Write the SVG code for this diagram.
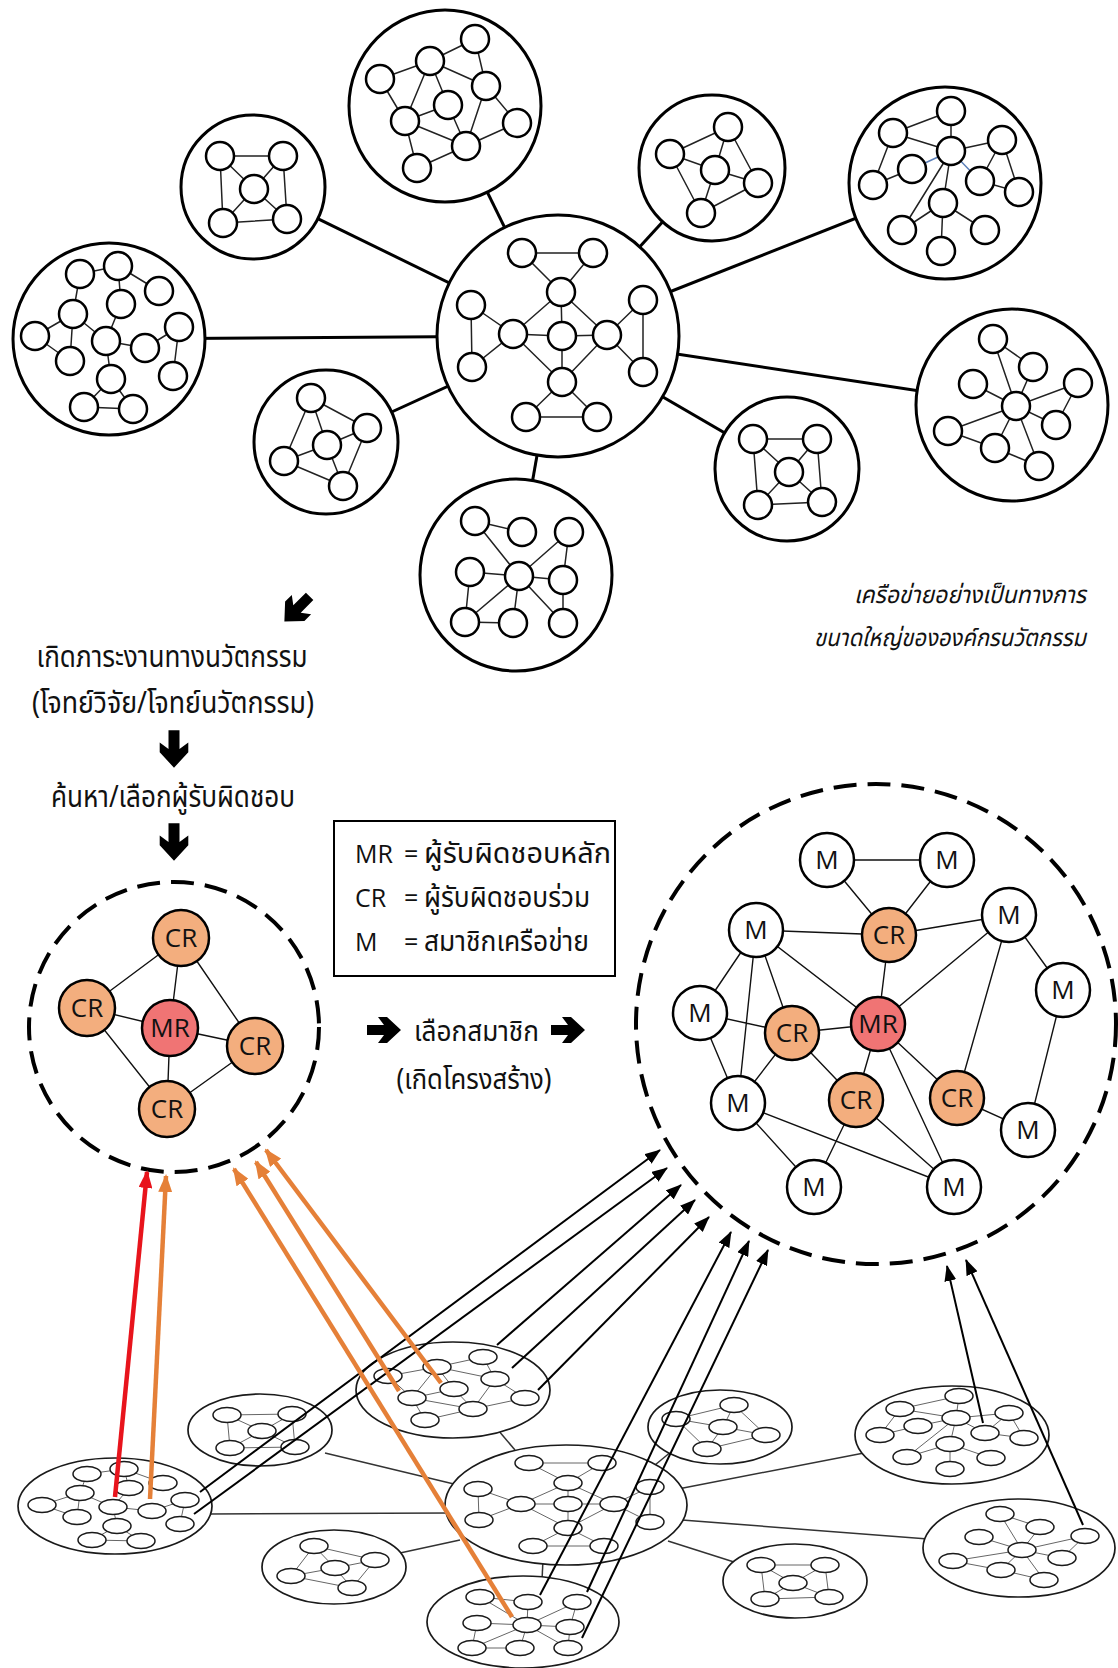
<svg xmlns="http://www.w3.org/2000/svg" xmlns:xlink="http://www.w3.org/1999/xlink" width="1118" height="1668" viewBox="0 0 1118 1668">
<style>
  .ring{fill:#fff;stroke:#000;stroke-width:3}
  .nd{fill:#fff;stroke:#000;stroke-width:2.5}
  .ed{stroke:#222;stroke-width:1.5;fill:none}
  .edb{stroke:#5b7fb8;stroke-width:1.5;fill:none}
  .link{stroke:#000;stroke-width:3;fill:none}
  .ering{fill:#fff;stroke:#1a1a1a;stroke-width:1.7}
  .end{fill:#fff;stroke:#1a1a1a;stroke-width:1.5}
  .eed{stroke:#666;stroke-width:1;fill:none}
  .elink{stroke:#333;stroke-width:1.5;fill:none}
  .dash{fill:none;stroke:#000;stroke-width:4;stroke-dasharray:23 11}
  .cr{fill:#F3AE7E;stroke:#000;stroke-width:2.5}
  .mr{fill:#F07474;stroke:#000;stroke-width:2.5}
  .mm{fill:#fff;stroke:#000;stroke-width:2.5}
  .sed{stroke:#111;stroke-width:1.4;fill:none}
  .lbl{font-family:"Open Sans","Noto Sans","Liberation Sans",sans-serif;font-size:26px;fill:#111;text-anchor:middle}
  .th{font-family:"Noto Sans Thai","Noto Sans Thai UI","Loma","Garuda","Noto Sans","DejaVu Sans",sans-serif;fill:#111}
  .lat{font-family:"Open Sans","Noto Sans","Liberation Sans",sans-serif;fill:#111}
  .blk{stroke:#000;stroke-width:2;fill:none}
  .org{stroke:#E58038;stroke-width:4.5;fill:none}
  .red{stroke:#E8141C;stroke-width:4.5;fill:none}
</style>
<defs>
  <marker id="ahB" markerUnits="userSpaceOnUse" markerWidth="16" markerHeight="12" viewBox="0 0 16 12" refX="15" refY="6" orient="auto">
    <path d="M0,0 L16,6 L0,12 Z" fill="#000"/>
  </marker>
  <marker id="ahO" markerUnits="userSpaceOnUse" markerWidth="18" markerHeight="14" viewBox="0 0 18 14" refX="16" refY="7" orient="auto">
    <path d="M0,0 L18,7 L0,14 Z" fill="#E58038"/>
  </marker>
  <marker id="ahR" markerUnits="userSpaceOnUse" markerWidth="18" markerHeight="14" viewBox="0 0 18 14" refX="16" refY="7" orient="auto">
    <path d="M0,0 L18,7 L0,14 Z" fill="#E8141C"/>
  </marker>
  <path id="bigArrow" d="M-17,-5 H0 L-6,-13 H3 L17,0 L3,13 H-6 L0,5 H-17 Z" fill="#000"/>
</defs>

<rect x="0" y="0" width="1118" height="1668" fill="#fff"/>

<!-- ===== upper network: links from the hub ===== -->
<g id="hub-links">
  <line class="link" x1="558" y1="336" x2="253" y2="187"/>
  <line class="link" x1="558" y1="336" x2="445" y2="106"/>
  <line class="link" x1="558" y1="336" x2="109" y2="339"/>
  <line class="link" x1="558" y1="336" x2="326" y2="442"/>
  <line class="link" x1="558" y1="336" x2="516" y2="575"/>
  <line class="link" x1="558" y1="336" x2="712" y2="168"/>
  <line class="link" x1="558" y1="336" x2="945" y2="183"/>
  <line class="link" x1="558" y1="336" x2="1012" y2="405"/>
  <line class="link" x1="558" y1="336" x2="787" y2="469"/>
</g>

<g id="cluster-a">
  <circle class="ring" cx="253" cy="187" r="72"/>
  <path class="ed" d="M220,156L283,156L287,219L223,223Z M254,189L220,156 M254,189L283,156 M254,189L223,223 M254,189L287,219"/>
  <circle class="nd" cx="220" cy="156" r="14"/><circle class="nd" cx="283" cy="156" r="14"/>
  <circle class="nd" cx="254" cy="189" r="14"/><circle class="nd" cx="223" cy="223" r="14"/>
  <circle class="nd" cx="287" cy="219" r="14"/>
</g>

<g id="cluster-b">
  <circle class="ring" cx="445" cy="106" r="96"/>
  <path class="ed" d="M475,39L430,61 M475,39L486,86 M430,61L380,79 M430,61L486,86 M430,61L405,121 M430,61L448,105 M380,79L405,121 M486,86L517,123 M486,86L466,146 M448,105L405,121 M448,105L466,146 M405,121L466,146 M405,121L417,168 M517,123L466,146 M466,146L417,168"/>
  <circle class="nd" cx="475" cy="39" r="14"/><circle class="nd" cx="430" cy="61" r="14"/>
  <circle class="nd" cx="380" cy="79" r="14"/><circle class="nd" cx="486" cy="86" r="14"/>
  <circle class="nd" cx="448" cy="105" r="14"/><circle class="nd" cx="405" cy="121" r="14"/>
  <circle class="nd" cx="517" cy="123" r="14"/><circle class="nd" cx="466" cy="146" r="14"/>
  <circle class="nd" cx="417" cy="168" r="14"/>
</g>

<g id="cluster-c">
  <circle class="ring" cx="109" cy="339" r="96"/>
  <path class="ed" d="M80,274L118,266 M80,274L73,314 M118,266L159,291 M118,266L121,304 M73,314L35,336 M73,314L70,361 M35,336L70,361 M73,314L106,341 M121,304L106,341 M106,341L145,348 M145,348L179,327 M179,327L173,376 M106,341L111,379 M111,379L84,407 M111,379L133,409 M84,407L133,409"/>
  <circle class="nd" cx="80" cy="274" r="14"/><circle class="nd" cx="118" cy="266" r="14"/>
  <circle class="nd" cx="159" cy="291" r="14"/><circle class="nd" cx="121" cy="304" r="14"/>
  <circle class="nd" cx="73" cy="314" r="14"/><circle class="nd" cx="179" cy="327" r="14"/>
  <circle class="nd" cx="35" cy="336" r="14"/><circle class="nd" cx="106" cy="341" r="14"/>
  <circle class="nd" cx="145" cy="348" r="14"/><circle class="nd" cx="70" cy="361" r="14"/>
  <circle class="nd" cx="173" cy="376" r="14"/><circle class="nd" cx="111" cy="379" r="14"/>
  <circle class="nd" cx="84" cy="407" r="14"/><circle class="nd" cx="133" cy="409" r="14"/>
</g>

<g id="cluster-d">
  <circle class="ring" cx="326" cy="442" r="72"/>
  <path class="ed" d="M311,398L367,428 M311,398L327,445 M311,398L284,461 M367,428L327,445 M367,428L343,486 M327,445L284,461 M327,445L343,486 M284,461L343,486"/>
  <circle class="nd" cx="311" cy="398" r="14"/><circle class="nd" cx="367" cy="428" r="14"/>
  <circle class="nd" cx="327" cy="445" r="14"/><circle class="nd" cx="284" cy="461" r="14"/>
  <circle class="nd" cx="343" cy="486" r="14"/>
</g>

<g id="cluster-hub">
  <circle class="ring" cx="558" cy="336" r="121"/>
  <path class="ed" d="M522,253L593,253 M522,253L561,292 M593,253L561,292 M561,292L562,336 M561,292L513,334 M561,292L607,335 M471,305L472,367 M471,305L513,334 M472,367L513,334 M513,334L562,336 M562,336L607,335 M513,334L562,382 M607,335L562,382 M607,335L643,300 M607,335L643,372 M643,300L643,372 M562,336L562,382 M562,382L526,417 M562,382L597,417 M526,417L597,417"/>
  <circle class="nd" cx="522" cy="253" r="14"/><circle class="nd" cx="593" cy="253" r="14"/>
  <circle class="nd" cx="561" cy="292" r="14"/><circle class="nd" cx="471" cy="305" r="14"/>
  <circle class="nd" cx="643" cy="300" r="14"/><circle class="nd" cx="513" cy="334" r="14"/>
  <circle class="nd" cx="562" cy="336" r="14"/><circle class="nd" cx="607" cy="335" r="14"/>
  <circle class="nd" cx="472" cy="367" r="14"/><circle class="nd" cx="643" cy="372" r="14"/>
  <circle class="nd" cx="562" cy="382" r="14"/><circle class="nd" cx="526" cy="417" r="14"/>
  <circle class="nd" cx="597" cy="417" r="14"/>
</g>

<g id="cluster-e">
  <circle class="ring" cx="516" cy="575" r="96"/>
  <path class="ed" d="M475,521L522,532 M475,521L519,576 M569,532L519,576 M569,532L563,580 M470,572L519,576 M470,572L465,622 M519,576L563,580 M519,576L513,623 M519,576L465,622 M519,576L563,623 M465,622L513,623 M563,580L563,623"/>
  <circle class="nd" cx="475" cy="521" r="14"/><circle class="nd" cx="522" cy="532" r="14"/>
  <circle class="nd" cx="569" cy="532" r="14"/><circle class="nd" cx="470" cy="572" r="14"/>
  <circle class="nd" cx="519" cy="576" r="14"/><circle class="nd" cx="563" cy="580" r="14"/>
  <circle class="nd" cx="465" cy="622" r="14"/><circle class="nd" cx="513" cy="623" r="14"/>
  <circle class="nd" cx="563" cy="623" r="14"/>
</g>

<g id="cluster-f">
  <circle class="ring" cx="712" cy="168" r="73"/>
  <path class="ed" d="M728,127L670,154 M728,127L715,170 M728,127L758,183 M670,154L715,170 M670,154L701,213 M715,170L758,183 M715,170L701,213 M758,183L701,213"/>
  <circle class="nd" cx="728" cy="127" r="14"/><circle class="nd" cx="670" cy="154" r="14"/>
  <circle class="nd" cx="715" cy="170" r="14"/><circle class="nd" cx="758" cy="183" r="14"/>
  <circle class="nd" cx="701" cy="213" r="14"/>
</g>

<g id="cluster-g">
  <circle class="ring" cx="945" cy="183" r="96"/>
  <path class="ed" d="M951,111L893,133 M951,111L951,151 M893,133L951,151 M893,133L873,185 M873,185L912,169 M951,151L1002,140 M1002,140L1019,192 M1002,140L980,181 M980,181L1019,192 M951,151L902,230 M951,151L943,203 M943,203L902,230 M943,203L985,230 M943,203L941,251"/>
  <path class="edb" d="M912,169L951,151 M951,151L980,181"/>
  <circle class="nd" cx="951" cy="111" r="14"/><circle class="nd" cx="893" cy="133" r="14"/>
  <circle class="nd" cx="1002" cy="140" r="14"/><circle class="nd" cx="951" cy="151" r="14"/>
  <circle class="nd" cx="912" cy="169" r="14"/><circle class="nd" cx="980" cy="181" r="14"/>
  <circle class="nd" cx="873" cy="185" r="14"/><circle class="nd" cx="1019" cy="192" r="14"/>
  <circle class="nd" cx="943" cy="203" r="14"/><circle class="nd" cx="902" cy="230" r="14"/>
  <circle class="nd" cx="985" cy="230" r="14"/><circle class="nd" cx="941" cy="251" r="14"/>
</g>

<g id="cluster-h">
  <circle class="ring" cx="1012" cy="405" r="96"/>
  <path class="ed" d="M993,339L1016,406 M993,339L1033,367 M1033,367L1016,406 M973,384L1016,406 M1078,383L1016,406 M1078,383L1056,425 M948,431L1016,406 M948,431L995,448 M995,448L1016,406 M1056,425L1016,406 M1039,466L1016,406 M995,448L1039,466"/>
  <circle class="nd" cx="993" cy="339" r="14"/><circle class="nd" cx="1033" cy="367" r="14"/>
  <circle class="nd" cx="973" cy="384" r="14"/><circle class="nd" cx="1078" cy="383" r="14"/>
  <circle class="nd" cx="1016" cy="406" r="14"/><circle class="nd" cx="948" cy="431" r="14"/>
  <circle class="nd" cx="1056" cy="425" r="14"/><circle class="nd" cx="995" cy="448" r="14"/>
  <circle class="nd" cx="1039" cy="466" r="14"/>
</g>

<g id="cluster-i">
  <circle class="ring" cx="787" cy="469" r="72"/>
  <path class="ed" d="M753,439L817,439L822,502L758,505Z M789,472L753,439 M789,472L817,439 M789,472L758,505 M789,472L822,502"/>
  <circle class="nd" cx="753" cy="439" r="14"/><circle class="nd" cx="817" cy="439" r="14"/>
  <circle class="nd" cx="789" cy="472" r="14"/><circle class="nd" cx="758" cy="505" r="14"/>
  <circle class="nd" cx="822" cy="502" r="14"/>
</g>

<!-- ===== captions and flow arrows ===== -->
<g id="caption-network">
  <text class="th" x="1086" y="603" font-size="24" font-style="italic" text-anchor="end" textLength="232" lengthAdjust="spacingAndGlyphs">เครือข่ายอย่างเป็นทางการ</text>
  <text class="th" x="1086" y="646" font-size="24" font-style="italic" text-anchor="end" textLength="272" lengthAdjust="spacingAndGlyphs">ขนาดใหญ่ขององค์กรนวัตกรรม</text>
</g>

<g id="flow-steps">
  <use xlink:href="#bigArrow" transform="translate(297,609) rotate(135) scale(1.05)"/>
  <text class="th" x="172" y="667" font-size="31" text-anchor="middle" textLength="271" lengthAdjust="spacingAndGlyphs">เกิดภาระงานทางนวัตกรรม</text>
  <text class="th" x="173" y="713" font-size="31" text-anchor="middle" textLength="282" lengthAdjust="spacingAndGlyphs">(โจทย์วิจัย/โจทย์นวัตกรรม)</text>
  <use xlink:href="#bigArrow" transform="translate(174,749) rotate(90) scale(1.1)"/>
  <text class="th" x="173" y="807" font-size="31" text-anchor="middle" textLength="244" lengthAdjust="spacingAndGlyphs">ค้นหา/เลือกผู้รับผิดชอบ</text>
  <use xlink:href="#bigArrow" transform="translate(174,842) rotate(90) scale(1.1)"/>
</g>

<g id="legend">
  <rect x="334" y="821" width="281" height="155" fill="#fff" stroke="#000" stroke-width="2"/>
  <text class="lat" x="355" y="863" font-size="25">MR</text>
  <text class="lat" x="404" y="863" font-size="25">=</text>
  <text class="th" x="424" y="863" font-size="28" textLength="187" lengthAdjust="spacingAndGlyphs">ผู้รับผิดชอบหลัก</text>
  <text class="lat" x="355" y="907" font-size="25">CR</text>
  <text class="lat" x="404" y="907" font-size="25">=</text>
  <text class="th" x="424" y="907" font-size="28" textLength="166" lengthAdjust="spacingAndGlyphs">ผู้รับผิดชอบร่วม</text>
  <text class="lat" x="355" y="951" font-size="25">M</text>
  <text class="lat" x="404" y="951" font-size="25">=</text>
  <text class="th" x="424" y="951" font-size="28" textLength="165" lengthAdjust="spacingAndGlyphs">สมาชิกเครือข่าย</text>
</g>

<g id="select-step">
  <use xlink:href="#bigArrow" transform="translate(384,1030)"/>
  <text class="th" x="414" y="1041" font-size="29" textLength="125" lengthAdjust="spacingAndGlyphs">เลือกสมาชิก</text>
  <use xlink:href="#bigArrow" transform="translate(568,1030)"/>
  <text class="th" x="474" y="1089" font-size="29" text-anchor="middle" textLength="155" lengthAdjust="spacingAndGlyphs">(เกิดโครงสร้าง)</text>
</g>

<!-- ===== core team (left dashed group) ===== -->
<g id="core-team">
  <circle class="dash" cx="174" cy="1027" r="145"/>
  <path class="sed" d="M181,938L87,1008 M181,938L170,1028 M181,938L255,1046 M87,1008L170,1028 M87,1008L167,1109 M170,1028L255,1046 M170,1028L167,1109 M255,1046L167,1109"/>
  <g id="core-cr1"><circle class="cr" cx="181" cy="938" r="28"/><text class="lbl" x="181" y="947">CR</text></g>
  <g id="core-cr2"><circle class="cr" cx="87" cy="1008" r="28"/><text class="lbl" x="87" y="1017">CR</text></g>
  <g id="core-mr"><circle class="mr" cx="170" cy="1028" r="28"/><text class="lbl" x="170" y="1037">MR</text></g>
  <g id="core-cr3"><circle class="cr" cx="255" cy="1046" r="28"/><text class="lbl" x="255" y="1055">CR</text></g>
  <g id="core-cr4"><circle class="cr" cx="167" cy="1109" r="28"/><text class="lbl" x="167" y="1118">CR</text></g>
</g>

<!-- ===== project structure (right dashed group) ===== -->
<g id="project-team">
  <circle class="dash" cx="876" cy="1024" r="240"/>
  <path class="sed" d="M827,860L947,860 M827,860L889,935 M947,860L889,935 M756,930L889,935 M889,935L1009,915 M889,935L878,1024 M756,930L878,1024 M756,930L700,1013 M756,930L738,1103 M756,930L792,1033 M1009,915L878,1024 M1009,915L957,1098 M1009,915L1063,990 M700,1013L792,1033 M700,1013L738,1103 M792,1033L878,1024 M792,1033L738,1103 M792,1033L856,1100 M878,1024L856,1100 M878,1024L957,1098 M878,1024L954,1187 M1063,990L1028,1130 M957,1098L1028,1130 M738,1103L814,1187 M738,1103L954,1187 M856,1100L814,1187 M856,1100L954,1187"/>
  <g id="pt-m1"><circle class="mm" cx="827" cy="860" r="27"/><text class="lbl" x="827" y="869">M</text></g>
  <g id="pt-m2"><circle class="mm" cx="947" cy="860" r="27"/><text class="lbl" x="947" y="869">M</text></g>
  <g id="pt-m3"><circle class="mm" cx="756" cy="930" r="27"/><text class="lbl" x="756" y="939">M</text></g>
  <g id="pt-cr1"><circle class="cr" cx="889" cy="935" r="27"/><text class="lbl" x="889" y="944">CR</text></g>
  <g id="pt-m4"><circle class="mm" cx="1009" cy="915" r="27"/><text class="lbl" x="1009" y="924">M</text></g>
  <g id="pt-m5"><circle class="mm" cx="1063" cy="990" r="27"/><text class="lbl" x="1063" y="999">M</text></g>
  <g id="pt-m6"><circle class="mm" cx="700" cy="1013" r="27"/><text class="lbl" x="700" y="1022">M</text></g>
  <g id="pt-cr2"><circle class="cr" cx="792" cy="1033" r="27"/><text class="lbl" x="792" y="1042">CR</text></g>
  <g id="pt-mr"><circle class="mr" cx="878" cy="1024" r="27"/><text class="lbl" x="878" y="1033">MR</text></g>
  <g id="pt-m7"><circle class="mm" cx="738" cy="1103" r="27"/><text class="lbl" x="738" y="1112">M</text></g>
  <g id="pt-cr3"><circle class="cr" cx="856" cy="1100" r="27"/><text class="lbl" x="856" y="1109">CR</text></g>
  <g id="pt-cr4"><circle class="cr" cx="957" cy="1098" r="27"/><text class="lbl" x="957" y="1107">CR</text></g>
  <g id="pt-m8"><circle class="mm" cx="1028" cy="1130" r="27"/><text class="lbl" x="1028" y="1139">M</text></g>
  <g id="pt-m9"><circle class="mm" cx="814" cy="1187" r="27"/><text class="lbl" x="814" y="1196">M</text></g>
  <g id="pt-m10"><circle class="mm" cx="954" cy="1187" r="27"/><text class="lbl" x="954" y="1196">M</text></g>
</g>

<!-- ===== lower network (flattened view) ===== -->
<g id="lower-links">
  <line class="elink" x1="208" y1="1514" x2="450" y2="1513"/>
  <line class="elink" x1="325" y1="1453" x2="458" y2="1485"/>
  <line class="elink" x1="400" y1="1553" x2="460" y2="1540"/>
  <line class="elink" x1="498" y1="1430" x2="515" y2="1450"/>
  <line class="elink" x1="543" y1="1560" x2="542" y2="1580"/>
  <line class="elink" x1="655" y1="1465" x2="672" y2="1451"/>
  <line class="elink" x1="678" y1="1489" x2="864" y2="1453"/>
  <line class="elink" x1="682" y1="1520" x2="928" y2="1539"/>
  <line class="elink" x1="668" y1="1541" x2="734" y2="1562"/>
</g>

<g id="lower-c">
  <ellipse class="ering" cx="115" cy="1506" rx="97" ry="48"/>
  <path class="eed" d="M87,1474L124,1469 M87,1474L80,1493 M124,1469L163,1483 M124,1469L129,1488 M80,1493L42,1505 M80,1493L77,1517 M42,1505L77,1517 M80,1493L113,1507 M129,1488L113,1507 M113,1507L152,1511 M152,1511L185,1500 M185,1500L180,1524 M113,1507L117,1526 M117,1526L92,1540 M117,1526L141,1541 M92,1540L141,1541"/>
  <ellipse class="end" cx="87" cy="1474" rx="14" ry="7.5"/><ellipse class="end" cx="124" cy="1469" rx="14" ry="7.5"/>
  <ellipse class="end" cx="163" cy="1483" rx="14" ry="7.5"/><ellipse class="end" cx="129" cy="1488" rx="14" ry="7.5"/>
  <ellipse class="end" cx="80" cy="1493" rx="14" ry="7.5"/><ellipse class="end" cx="185" cy="1500" rx="14" ry="7.5"/>
  <ellipse class="end" cx="42" cy="1505" rx="14" ry="7.5"/><ellipse class="end" cx="113" cy="1507" rx="14" ry="7.5" fill="#F4A3A3"/>
  <ellipse class="end" cx="152" cy="1511" rx="14" ry="7.5" fill="#F8C896"/><ellipse class="end" cx="77" cy="1517" rx="14" ry="7.5"/>
  <ellipse class="end" cx="180" cy="1524" rx="14" ry="7.5"/><ellipse class="end" cx="117" cy="1526" rx="14" ry="7.5"/>
  <ellipse class="end" cx="92" cy="1540" rx="14" ry="7.5"/><ellipse class="end" cx="141" cy="1541" rx="14" ry="7.5"/>
</g>

<g id="lower-a">
  <ellipse class="ering" cx="260" cy="1430" rx="72" ry="36"/>
  <path class="eed" d="M227,1415L292,1414L295,1447L230,1448Z M262,1431L227,1415 M262,1431L292,1414 M262,1431L230,1448 M262,1431L295,1447"/>
  <ellipse class="end" cx="227" cy="1415" rx="14" ry="7.5"/><ellipse class="end" cx="292" cy="1414" rx="14" ry="7.5"/>
  <ellipse class="end" cx="262" cy="1431" rx="14" ry="7.5"/><ellipse class="end" cx="230" cy="1448" rx="14" ry="7.5"/>
  <ellipse class="end" cx="295" cy="1447" rx="14" ry="7.5"/>
</g>

<g id="lower-d">
  <ellipse class="ering" cx="334" cy="1567" rx="72" ry="37"/>
  <path class="eed" d="M314,1546L375,1560 M314,1546L335,1568 M314,1546L291,1576 M375,1560L335,1568 M375,1560L352,1588 M335,1568L291,1576 M335,1568L352,1588 M291,1576L352,1588"/>
  <ellipse class="end" cx="314" cy="1546" rx="14" ry="7.5"/><ellipse class="end" cx="375" cy="1560" rx="14" ry="7.5"/>
  <ellipse class="end" cx="335" cy="1568" rx="14" ry="7.5"/><ellipse class="end" cx="291" cy="1576" rx="14" ry="7.5"/>
  <ellipse class="end" cx="352" cy="1588" rx="14" ry="7.5"/>
</g>

<g id="lower-b">
  <ellipse class="ering" cx="453" cy="1390" rx="97" ry="48"/>
  <path class="eed" d="M483,1357L437,1367 M483,1357L495,1379 M437,1367L388,1376 M437,1367L495,1379 M437,1367L412,1398 M437,1367L454,1389 M388,1376L412,1398 M495,1379L525,1398 M495,1379L473,1409 M454,1389L412,1398 M454,1389L473,1409 M412,1398L473,1409 M412,1398L425,1420 M525,1398L473,1409 M473,1409L425,1420"/>
  <ellipse class="end" cx="483" cy="1357" rx="14" ry="7.5"/><ellipse class="end" cx="437" cy="1367" rx="14" ry="7.5"/>
  <ellipse class="end" cx="388" cy="1376" rx="14" ry="7.5"/><ellipse class="end" cx="495" cy="1379" rx="14" ry="7.5"/>
  <ellipse class="end" cx="454" cy="1389" rx="14" ry="7.5" fill="#F8C896"/><ellipse class="end" cx="412" cy="1398" rx="14" ry="7.5" fill="#F8C896"/>
  <ellipse class="end" cx="525" cy="1398" rx="14" ry="7.5"/><ellipse class="end" cx="473" cy="1409" rx="14" ry="7.5"/>
  <ellipse class="end" cx="425" cy="1420" rx="14" ry="7.5"/>
</g>

<g id="lower-hub">
  <ellipse class="ering" cx="566" cy="1505" rx="121" ry="60"/>
  <path class="eed" d="M529,1463L602,1463 M529,1463L568,1483 M602,1463L568,1483 M568,1483L568,1504 M568,1483L521,1504 M568,1483L614,1504 M478,1489L479,1520 M478,1489L521,1504 M479,1520L521,1504 M521,1504L568,1504 M568,1504L614,1504 M521,1504L568,1528 M614,1504L568,1528 M614,1504L650,1487 M614,1504L650,1522 M650,1487L650,1522 M568,1504L568,1528 M568,1528L533,1546 M568,1528L604,1546 M533,1546L604,1546"/>
  <ellipse class="end" cx="529" cy="1463" rx="14" ry="7.5"/><ellipse class="end" cx="602" cy="1463" rx="14" ry="7.5"/>
  <ellipse class="end" cx="568" cy="1483" rx="14" ry="7.5"/><ellipse class="end" cx="478" cy="1489" rx="14" ry="7.5"/>
  <ellipse class="end" cx="650" cy="1487" rx="14" ry="7.5"/><ellipse class="end" cx="521" cy="1504" rx="14" ry="7.5"/>
  <ellipse class="end" cx="568" cy="1504" rx="14" ry="7.5"/><ellipse class="end" cx="614" cy="1504" rx="14" ry="7.5"/>
  <ellipse class="end" cx="479" cy="1520" rx="14" ry="7.5"/><ellipse class="end" cx="650" cy="1522" rx="14" ry="7.5"/>
  <ellipse class="end" cx="568" cy="1528" rx="14" ry="7.5"/><ellipse class="end" cx="533" cy="1546" rx="14" ry="7.5"/>
  <ellipse class="end" cx="604" cy="1546" rx="14" ry="7.5"/>
</g>

<g id="lower-e">
  <ellipse class="ering" cx="523" cy="1622" rx="96" ry="46"/>
  <path class="eed" d="M480,1597L528,1602 M480,1597L527,1625 M528,1602L527,1625 M577,1602L527,1625 M577,1602L570,1627 M477,1623L527,1625 M477,1623L472,1648 M527,1625L570,1627 M527,1625L520,1648 M527,1625L472,1648 M527,1625L568,1648 M472,1648L520,1648 M570,1627L568,1648"/>
  <ellipse class="end" cx="480" cy="1597" rx="14" ry="7.5"/><ellipse class="end" cx="528" cy="1602" rx="14" ry="7.5"/>
  <ellipse class="end" cx="577" cy="1602" rx="14" ry="7.5"/><ellipse class="end" cx="477" cy="1623" rx="14" ry="7.5"/>
  <ellipse class="end" cx="527" cy="1625" rx="14" ry="7.5" fill="#F8C896"/><ellipse class="end" cx="570" cy="1627" rx="14" ry="7.5"/>
  <ellipse class="end" cx="472" cy="1648" rx="14" ry="7.5"/><ellipse class="end" cx="520" cy="1648" rx="14" ry="7.5"/>
  <ellipse class="end" cx="568" cy="1648" rx="14" ry="7.5"/>
</g>

<g id="lower-f">
  <ellipse class="ering" cx="720" cy="1427" rx="72" ry="37"/>
  <path class="eed" d="M734,1405L676,1419 M734,1405L723,1427 M734,1405L766,1435 M676,1419L723,1427 M676,1419L707,1449 M723,1427L766,1435 M723,1427L707,1449 M766,1435L707,1449"/>
  <ellipse class="end" cx="734" cy="1405" rx="14" ry="7.5"/><ellipse class="end" cx="676" cy="1419" rx="14" ry="7.5"/>
  <ellipse class="end" cx="723" cy="1427" rx="14" ry="7.5"/><ellipse class="end" cx="766" cy="1435" rx="14" ry="7.5"/>
  <ellipse class="end" cx="707" cy="1449" rx="14" ry="7.5"/>
</g>

<g id="lower-g">
  <ellipse class="ering" cx="952" cy="1435" rx="97" ry="49"/>
  <path class="eed" d="M959,1396L900,1409 M959,1396L956,1418 M900,1409L956,1418 M900,1409L880,1435 M880,1435L918,1426 M956,1418L1009,1413 M1009,1413L1024,1438 M1009,1413L985,1433 M985,1433L1024,1438 M956,1418L907,1457 M956,1418L950,1444 M950,1444L907,1457 M950,1444L991,1458 M950,1444L950,1469 M956,1418L918,1426 M956,1418L985,1433"/>
  <ellipse class="end" cx="959" cy="1396" rx="14" ry="7.5"/><ellipse class="end" cx="900" cy="1409" rx="14" ry="7.5"/>
  <ellipse class="end" cx="1009" cy="1413" rx="14" ry="7.5"/><ellipse class="end" cx="956" cy="1418" rx="14" ry="7.5"/>
  <ellipse class="end" cx="918" cy="1426" rx="14" ry="7.5"/><ellipse class="end" cx="985" cy="1433" rx="14" ry="7.5"/>
  <ellipse class="end" cx="880" cy="1435" rx="14" ry="7.5"/><ellipse class="end" cx="1024" cy="1438" rx="14" ry="7.5"/>
  <ellipse class="end" cx="950" cy="1444" rx="14" ry="7.5"/><ellipse class="end" cx="907" cy="1457" rx="14" ry="7.5"/>
  <ellipse class="end" cx="991" cy="1458" rx="14" ry="7.5"/><ellipse class="end" cx="950" cy="1469" rx="14" ry="7.5"/>
</g>

<g id="lower-h">
  <ellipse class="ering" cx="1019" cy="1548" rx="96" ry="49"/>
  <path class="eed" d="M1000,1514L1022,1550 M1000,1514L1040,1527 M1040,1527L1022,1550 M979,1537L1022,1550 M1085,1536L1022,1550 M1085,1536L1062,1558 M953,1561L1022,1550 M953,1561L1001,1570 M1001,1570L1022,1550 M1062,1558L1022,1550 M1044,1580L1022,1550 M1001,1570L1044,1580"/>
  <ellipse class="end" cx="1000" cy="1514" rx="14" ry="7.5"/><ellipse class="end" cx="1040" cy="1527" rx="14" ry="7.5"/>
  <ellipse class="end" cx="979" cy="1537" rx="14" ry="7.5"/><ellipse class="end" cx="1085" cy="1536" rx="14" ry="7.5"/>
  <ellipse class="end" cx="1022" cy="1550" rx="14" ry="7.5"/><ellipse class="end" cx="953" cy="1561" rx="14" ry="7.5"/>
  <ellipse class="end" cx="1062" cy="1558" rx="14" ry="7.5"/><ellipse class="end" cx="1001" cy="1570" rx="14" ry="7.5"/>
  <ellipse class="end" cx="1044" cy="1580" rx="14" ry="7.5"/>
</g>

<g id="lower-i">
  <ellipse class="ering" cx="795" cy="1581" rx="72" ry="37"/>
  <path class="eed" d="M761,1565L825,1565L829,1597L765,1599Z M793,1583L761,1565 M793,1583L825,1565 M793,1583L765,1599 M793,1583L829,1597"/>
  <ellipse class="end" cx="761" cy="1565" rx="14" ry="7.5"/><ellipse class="end" cx="825" cy="1565" rx="14" ry="7.5"/>
  <ellipse class="end" cx="793" cy="1583" rx="14" ry="7.5"/><ellipse class="end" cx="765" cy="1599" rx="14" ry="7.5"/>
  <ellipse class="end" cx="829" cy="1597" rx="14" ry="7.5"/>
</g>

<!-- ===== selection arrows from the lower network ===== -->
<g id="selection-arrows">
  <line class="blk" x1="200" y1="1492" x2="660" y2="1150" marker-end="url(#ahB)"/>
  <line class="blk" x1="194" y1="1514" x2="667" y2="1168" marker-end="url(#ahB)"/>
  <line class="blk" x1="497" y1="1345" x2="681" y2="1185" marker-end="url(#ahB)"/>
  <line class="blk" x1="512" y1="1368" x2="695" y2="1200" marker-end="url(#ahB)"/>
  <line class="blk" x1="538" y1="1390" x2="709" y2="1217" marker-end="url(#ahB)"/>
  <line class="blk" x1="540" y1="1595" x2="731" y2="1232" marker-end="url(#ahB)"/>
  <line class="blk" x1="587" y1="1592" x2="749" y2="1241" marker-end="url(#ahB)"/>
  <line class="blk" x1="582" y1="1638" x2="768" y2="1250" marker-end="url(#ahB)"/>
  <line class="blk" x1="983" y1="1423" x2="947" y2="1266" marker-end="url(#ahB)"/>
  <line class="blk" x1="1083" y1="1525" x2="966" y2="1260" marker-end="url(#ahB)"/>

  <line class="red" x1="115" y1="1497" x2="147" y2="1172" marker-end="url(#ahR)"/>
  <line class="org" x1="150" y1="1499" x2="166" y2="1176" marker-end="url(#ahO)"/>
  <line class="org" x1="512" y1="1617" x2="234" y2="1169" marker-end="url(#ahO)"/>
  <line class="org" x1="399" y1="1391" x2="256" y2="1162" marker-end="url(#ahO)"/>
  <line class="org" x1="441" y1="1383" x2="266" y2="1150" marker-end="url(#ahO)"/>
</g>
</svg>
